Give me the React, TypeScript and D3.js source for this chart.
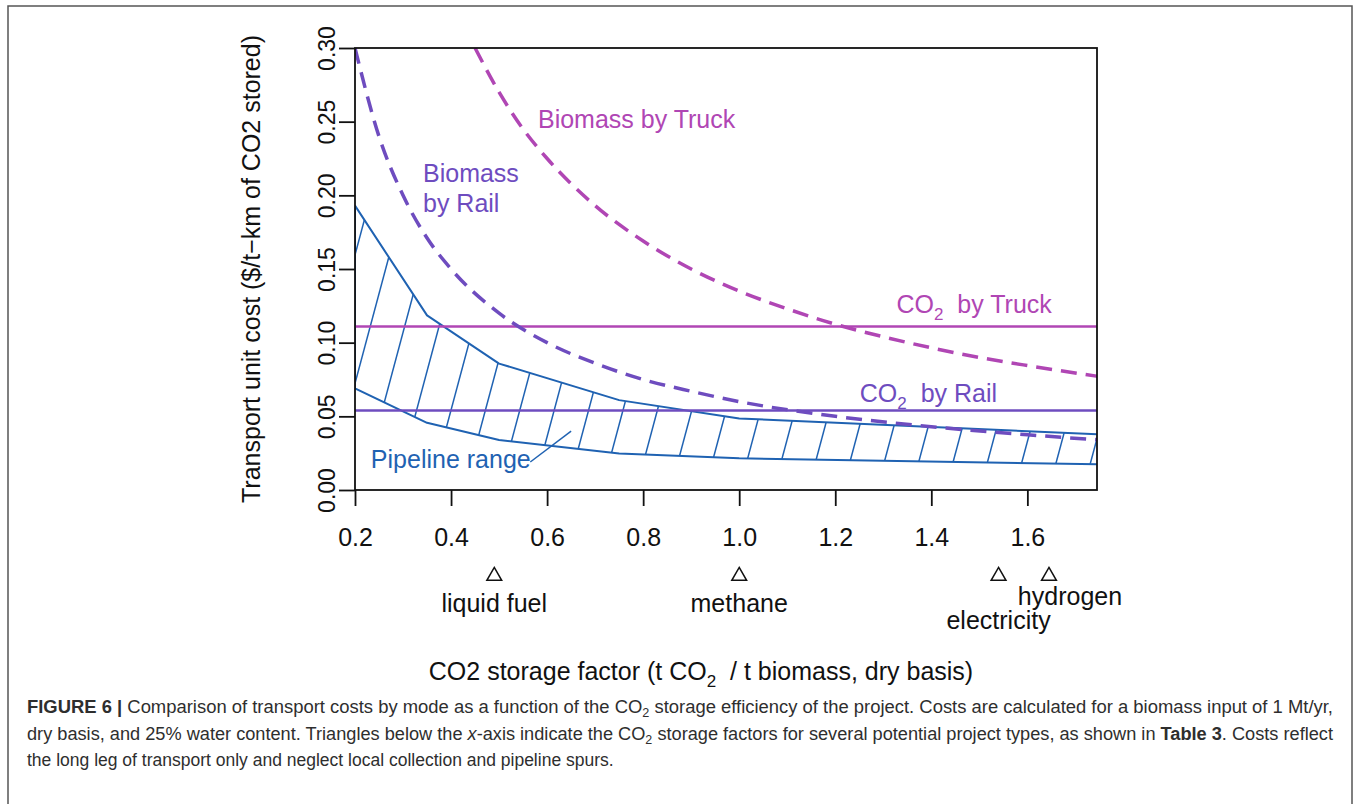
import React, { useRef, useEffect } from "react";
import * as d3 from "d3";

// axis ticks
const xTicks = [0.2, 0.4, 0.6, 0.8, 1.0, 1.2, 1.4, 1.6];
const yTicks = [0, 0.05, 0.1, 0.15, 0.2, 0.25, 0.3];

// pipeline range (upper / lower bounds)
const pipelineX = [0.2, 0.35, 0.5, 0.75, 1.0, 1.75];
const pipelineUpper = [0.193, 0.1185, 0.0858, 0.061, 0.0486, 0.0377];
const pipelineLower = [0.0689, 0.0456, 0.0339, 0.0248, 0.0215, 0.0174];

// biomass by truck (dashed)
const biomassTruckX = [0.45, 0.5, 0.55, 0.6, 0.7, 0.8, 0.9, 1.0, 1.1, 1.2, 1.3, 1.4, 1.5, 1.6, 1.75];
const biomassTruckY = [0.3, 0.27, 0.245, 0.225, 0.193, 0.169, 0.15, 0.135, 0.123, 0.1125, 0.104, 0.0965, 0.09, 0.0845, 0.077];

// biomass by rail (dashed)
const biomassRailX = [0.2, 0.25, 0.3, 0.35, 0.4, 0.5, 0.6, 0.7, 0.8, 0.9, 1.0, 1.2, 1.4, 1.6, 1.75];
const biomassRailY = [0.3, 0.24, 0.2, 0.171, 0.15, 0.12, 0.1, 0.086, 0.075, 0.067, 0.06, 0.05, 0.043, 0.0375, 0.034];

// CO2 flat costs
const co2Truck = 0.111;
const co2Rail = 0.054;

// project types under the x-axis
const projectTypes = ["liquid fuel", "methane", "electricity", "hydrogen"];
const projectFactors = [0.49, 1.0, 1.54, 1.645];

const TRUCK = "#b046b4";
const RAIL = "#6e4cbf";
const PIPE = "#1f62b2";
const FONT = "'Liberation Sans', Arial, Helvetica, sans-serif";

export default function App() {
  const ref = useRef<SVGSVGElement | null>(null);

  useEffect(() => {
    if (!ref.current) return;
    const svg = d3.select(ref.current);
    svg.selectAll("*").remove();

    const x = d3.scaleLinear().domain([0.2, 1.745]).range([355, 1097]);
    const y = d3.scaleLinear().domain([0, 0.3]).range([490, 48]);

    // outer figure border
    svg.append("rect")
      .attr("x", 8).attr("y", 6)
      .attr("width", 1344).attr("height", 900)
      .attr("fill", "#fff").attr("stroke", "#555").attr("stroke-width", 1.5);

    svg.append("clipPath").attr("id", "plotClip")
      .append("rect")
      .attr("x", x(0.2)).attr("y", y(0.3))
      .attr("width", x(1.745) - x(0.2)).attr("height", y(0) - y(0.3));

    const plot = svg.append("g").attr("clip-path", "url(#plotClip)");

    // pipeline range polygon
    const upperPts: [number, number][] = pipelineX.map((v, i) => [x(v), y(pipelineUpper[i])]);
    const lowerPts = pipelineX.map((v, i) => [x(v), y(pipelineLower[i])]).reverse();
    const polyPath = "M" + [...upperPts, ...lowerPts].map((p) => p.join(",")).join("L") + "Z";

    svg.append("clipPath").attr("id", "pipeClip").append("path").attr("d", polyPath);

    // hatch lines at ~75 degrees
    const spacing = 34.4;
    const lean = (y(0) - y(0.3)) * Math.tan((15 * Math.PI) / 180);
    const hatch = plot.append("g").attr("clip-path", "url(#pipeClip)");
    for (let k = -14; k <= 12; k++) {
      const x0 = x(1.0) + k * spacing;
      hatch.append("line")
        .attr("x1", x0).attr("y1", y(0))
        .attr("x2", x0 + lean).attr("y2", y(0.3))
        .attr("stroke", PIPE).attr("stroke-width", 1.5);
    }
    plot.append("path")
      .attr("d", polyPath)
      .attr("fill", "none").attr("stroke", PIPE).attr("stroke-width", 2)
      .attr("stroke-linejoin", "round");

    // flat CO2 lines
    plot.append("line")
      .attr("x1", x(0.2)).attr("x2", x(1.745))
      .attr("y1", y(co2Truck)).attr("y2", y(co2Truck))
      .attr("stroke", TRUCK).attr("stroke-width", 2.5);
    plot.append("line")
      .attr("x1", x(0.2)).attr("x2", x(1.745))
      .attr("y1", y(co2Rail)).attr("y2", y(co2Rail))
      .attr("stroke", RAIL).attr("stroke-width", 2.5);

    // dashed biomass curves
    const line = d3.line<[number, number]>()
      .x((d) => x(d[0])).y((d) => y(d[1]))
      .curve(d3.curveMonotoneX);
    plot.append("path")
      .attr("d", line(biomassTruckX.map((v, i) => [v, biomassTruckY[i]]))!)
      .attr("fill", "none").attr("stroke", TRUCK).attr("stroke-width", 3.5)
      .attr("stroke-dasharray", "16 9");
    plot.append("path")
      .attr("d", line(biomassRailX.map((v, i) => [v, biomassRailY[i]]))!)
      .attr("fill", "none").attr("stroke", RAIL).attr("stroke-width", 3.5)
      .attr("stroke-dasharray", "16 9");

    // frame
    svg.append("rect")
      .attr("x", x(0.2)).attr("y", y(0.3))
      .attr("width", x(1.745) - x(0.2)).attr("height", y(0) - y(0.3))
      .attr("fill", "none").attr("stroke", "#111").attr("stroke-width", 1.8);

    // axes
    const xAxis = svg.append("g")
      .attr("transform", `translate(0,${y(0)})`)
      .call(d3.axisBottom(x).tickValues(xTicks).tickSize(16).tickSizeOuter(0).tickFormat(d3.format(".1f")));
    xAxis.select(".domain").remove();
    xAxis.selectAll(".tick line").attr("stroke", "#111").attr("stroke-width", 1.8);
    xAxis.selectAll(".tick text")
      .attr("y", 56).attr("dy", 0)
      .attr("fill", "#111").style("font-family", FONT).style("font-size", "25px");

    const yAxis = svg.append("g")
      .attr("transform", `translate(${x(0.2)},0)`)
      .call(d3.axisLeft(y).tickValues(yTicks).tickSize(16).tickSizeOuter(0).tickFormat(d3.format(".2f")));
    yAxis.select(".domain").remove();
    yAxis.selectAll(".tick line").attr("stroke", "#111").attr("stroke-width", 1.8);
    yAxis.selectAll(".tick text")
      .attr("transform", "rotate(-90)")
      .attr("x", 0).attr("y", -20).attr("dy", 0)
      .attr("text-anchor", "middle")
      .attr("fill", "#111").style("font-family", FONT).style("font-size", "23px");

    // axis titles
    svg.append("text")
      .attr("transform", `translate(260,${(y(0) + y(0.3)) / 2}) rotate(-90)`)
      .attr("text-anchor", "middle")
      .attr("fill", "#111").style("font-family", FONT).style("font-size", "25px")
      .text("Transport unit cost ($/t\u2212km of CO2 stored)");

    const xt = svg.append("text")
      .attr("x", 701).attr("y", 680)
      .attr("text-anchor", "middle")
      .attr("fill", "#111").style("font-family", FONT).style("font-size", "25px");
    xt.append("tspan").text("CO2 storage factor (t CO");
    xt.append("tspan").attr("dy", 7).style("font-size", "17px").text("2");
    xt.append("tspan").attr("dy", -7).text("\u00a0 / t biomass, dry basis)");

    // curve labels
    const label = (tx: number, ty: number, color: string, anchor = "start") =>
      svg.append("text")
        .attr("x", x(tx)).attr("y", y(ty))
        .attr("text-anchor", anchor)
        .attr("fill", color).style("font-family", FONT).style("font-size", "25px");

    label(0.581, 0.2458, TRUCK).text("Biomass by Truck");
    label(0.3416, 0.2091, RAIL).text("Biomass");
    label(0.3416, 0.1887, RAIL).text("by Rail");
    const ct = label(1.651, 0.1202, TRUCK, "end");
    ct.append("tspan").text("CO");
    ct.append("tspan").attr("dy", 7).style("font-size", "17px").text("2");
    ct.append("tspan").attr("dy", -7).text("\u00a0 by Truck");
    const cr = label(1.537, 0.0597, RAIL, "end");
    cr.append("tspan").text("CO");
    cr.append("tspan").attr("dy", 7).style("font-size", "17px").text("2");
    cr.append("tspan").attr("dy", -7).text("\u00a0 by Rail");
    label(0.233, 0.0149, PIPE).text("Pipeline range");
    svg.append("line")
      .attr("x1", x(0.565)).attr("y1", y(0.019))
      .attr("x2", x(0.65)).attr("y2", y(0.04))
      .attr("stroke", PIPE).attr("stroke-width", 1.5);

    // project type markers
    const labelDx = [0, 0, 0, 21];
    const labelY = [612, 612, 629, 605];
    const tri = d3.symbol().type(d3.symbolTriangle).size(95);
    projectTypes.forEach((name, i) => {
      svg.append("path")
        .attr("d", tri()!)
        .attr("transform", `translate(${x(projectFactors[i])},576)`)
        .attr("fill", "none").attr("stroke", "#111").attr("stroke-width", 1.5);
      svg.append("text")
        .attr("x", x(projectFactors[i]) + labelDx[i]).attr("y", labelY[i])
        .attr("text-anchor", "middle")
        .attr("fill", "#111").style("font-family", FONT).style("font-size", "25px")
        .text(name);
    });

    // caption
    const cap = svg.append("g")
      .style("font-family", FONT).style("font-size", "17.5px").attr("fill", "#2e2e2e");
    const l1 = cap.append("text").attr("x", 27).attr("y", 713)
      .attr("textLength", 1306).attr("lengthAdjust", "spacingAndGlyphs");
    l1.append("tspan").style("font-weight", "bold").text("FIGURE 6 | ");
    l1.append("tspan").text("Comparison of transport costs by mode as a function of the CO");
    l1.append("tspan").attr("dy", 4).style("font-size", "12px").text("2");
    l1.append("tspan").attr("dy", -4).text(" storage efficiency of the project. Costs are calculated for a biomass input of 1 Mt/yr,");
    const l2 = cap.append("text").attr("x", 27).attr("y", 739.5)
      .attr("textLength", 1306).attr("lengthAdjust", "spacingAndGlyphs");
    l2.append("tspan").text("dry basis, and 25% water content. Triangles below the ");
    l2.append("tspan").style("font-style", "italic").text("x");
    l2.append("tspan").text("-axis indicate the CO");
    l2.append("tspan").attr("dy", 4).style("font-size", "12px").text("2");
    l2.append("tspan").attr("dy", -4).text(" storage factors for several potential project types, as shown in ");
    l2.append("tspan").style("font-weight", "bold").text("Table 3");
    l2.append("tspan").text(". Costs reflect");
    cap.append("text").attr("x", 27).attr("y", 766)
      .text("the long leg of transport only and neglect local collection and pipeline spurs.");
  }, []);

  return (
    <svg
      ref={ref}
      width={1360}
      height={804}
      style={{ position: "absolute", left: 0, top: 0, background: "#fff" }}
    />
  );
}
